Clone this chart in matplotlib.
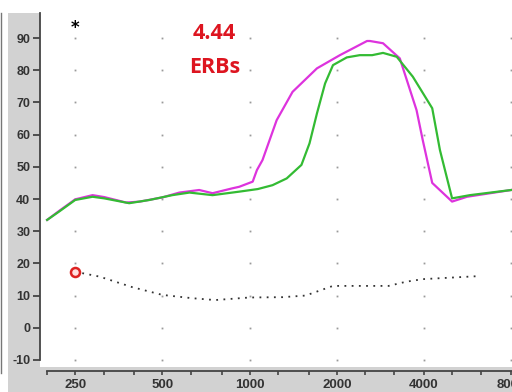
import matplotlib
matplotlib.use("Agg")
import matplotlib.pyplot as plt
from matplotlib.patches import Rectangle
from matplotlib.lines import Line2D
from matplotlib.ticker import FixedLocator, NullLocator

# ---- data ----
green_f = [200, 220, 250, 287, 315, 384, 451, 541, 620, 745, 923, 1068, 1200, 1343,
           1510, 1610, 1708, 1822, 1940, 2165, 2400, 2650, 2888, 3220, 3660, 4270,
           4540, 5000, 5760, 8000]
green_db = [33.5, 36.1, 39.7, 40.7, 40.2, 38.7, 39.7, 41.2, 42.0, 41.2, 42.3, 43.1, 44.3,
            46.4, 50.6, 57.3, 66.6, 75.9, 81.6, 84.0, 84.7, 84.7, 85.4, 84.2, 78.0,
            68.2, 55.2, 40.2, 41.2, 42.8]

magenta_f = [200, 220, 250, 287, 315, 375, 418, 500, 572, 670, 745, 870, 921, 1025,
             1060, 1108, 1240, 1407, 1708, 2050, 2543, 2603, 2888, 3300, 3770, 3960,
             4270, 5000, 5630, 8000]
magenta_db = [33.5, 36.3, 39.9, 41.2, 40.6, 38.9, 39.2, 40.5, 42.0, 42.8, 41.8, 43.3,
              43.8, 45.4, 49.0, 52.1, 64.5, 73.3, 80.6, 84.7, 89.1, 89.1, 88.4, 83.7,
              67.6, 58.3, 45.0, 39.2, 40.7, 42.8]

thresh_f = [250, 303, 394, 500, 630, 760, 1000, 1300, 1560, 1940, 3020, 3470, 3960, 6060]
thresh_db = [17.4, 15.9, 12.6, 10.2, 9.2, 8.6, 9.4, 9.5, 10.0, 13.0, 13.0, 14.3, 15.1, 16.0]

marker_f = [250]
marker_db = [17.4]

x_labels = [250, 500, 1000, 2000, 4000, 8000]
x_minor = [200, 250, 315, 400, 500, 630, 800, 1000, 1250, 1600, 2000, 2500, 3150,
           4000, 5000, 6300, 8000]
y_ticks = [-10, 0, 10, 20, 30, 40, 50, 60, 70, 80, 90]
erb_value = "4.44"
erb_unit = "ERBs"

# ---- figure ----
W, H = 512, 392
fig = plt.figure(figsize=(W / 100, H / 100), dpi=100, facecolor="white")

gray = "#d2d2d2"
fig.patches.append(Rectangle((8 / W, 0), 1 - 8 / W, 1 - 13 / H, transform=fig.transFigure,
                             facecolor=gray, edgecolor="none", zorder=-10))
fig.lines.append(Line2D([1.2 / W, 1.2 / W], [1 - 373 / H, 1 - 13 / H], transform=fig.transFigure,
                        color="#777777", lw=1.0, zorder=-10))

ax = fig.add_axes([40 / W, 1 - 367 / H, 1 - 40 / W, (367 - 13) / H])
ax.set_zorder(1)
ax.set_facecolor("white")
ax.set_xscale("log", base=2)
ax.set_xlim(189, 8050)
ax.set_ylim(-12.2, 97.8)

# grid dots
for gx in x_labels:
    for gy in y_ticks:
        ax.plot(gx, gy, marker="s", ms=1.3, color="#9a9a9a", mew=0, zorder=1)

ax.plot(magenta_f, magenta_db, color="#dd33dd", lw=1.6, zorder=3)
ax.plot(green_f, green_db, color="#33bb33", lw=1.6, zorder=4)
ax.plot(thresh_f, thresh_db, color="#333333", lw=1.3, linestyle=(0, (1, 3)), zorder=3)
ax.plot(marker_f, marker_db, marker="o", ms=6.5, mfc="#ffe0e0", mec="#dd2222", mew=1.8,
        linestyle="none", zorder=5)

ax.text(250, 93.2, "*", ha="center", va="center", fontsize=12, color="black",
        fontweight="bold")
ax.text(757, 91.3, erb_value, ha="center", va="center", fontsize=15.5, color="#dd1520",
        fontweight="bold", family="Open Sans")
ax.text(757, 80.9, erb_unit, ha="center", va="center", fontsize=15.5, color="#dd1520",
        fontweight="bold", family="Open Sans")

# axes styling
for s in ["top", "right"]:
    ax.spines[s].set_visible(False)
ax.spines["left"].set_bounds(-10, 97.8)
ax.spines["left"].set_color("#444444")
ax.spines["left"].set_linewidth(1.3)
ax.spines["bottom"].set_position(("outward", 3))
ax.spines["bottom"].set_bounds(200, 8050)
ax.spines["bottom"].set_color("#444444")
ax.spines["bottom"].set_linewidth(1.3)

ax.xaxis.set_major_locator(FixedLocator(x_minor))
ax.xaxis.set_minor_locator(NullLocator())
ax.set_xticklabels([str(v) if v in x_labels else "" for v in x_minor])
ax.set_yticks(y_ticks)
ax.set_yticklabels([str(v) for v in y_ticks])
ax.tick_params(axis="x", direction="out", length=3, width=1.2, color="#444444",
               pad=2.5, labelsize=9.5, labelcolor="#333333")
ax.tick_params(axis="y", direction="out", length=5, width=1.3, color="#444444",
               pad=2, labelsize=9, labelcolor="#333333")
for lab in ax.get_xticklabels() + ax.get_yticklabels():
    lab.set_fontweight("bold")
    lab.set_family("Liberation Sans")

fig.savefig("out.png", dpi=100, facecolor=fig.get_facecolor())
